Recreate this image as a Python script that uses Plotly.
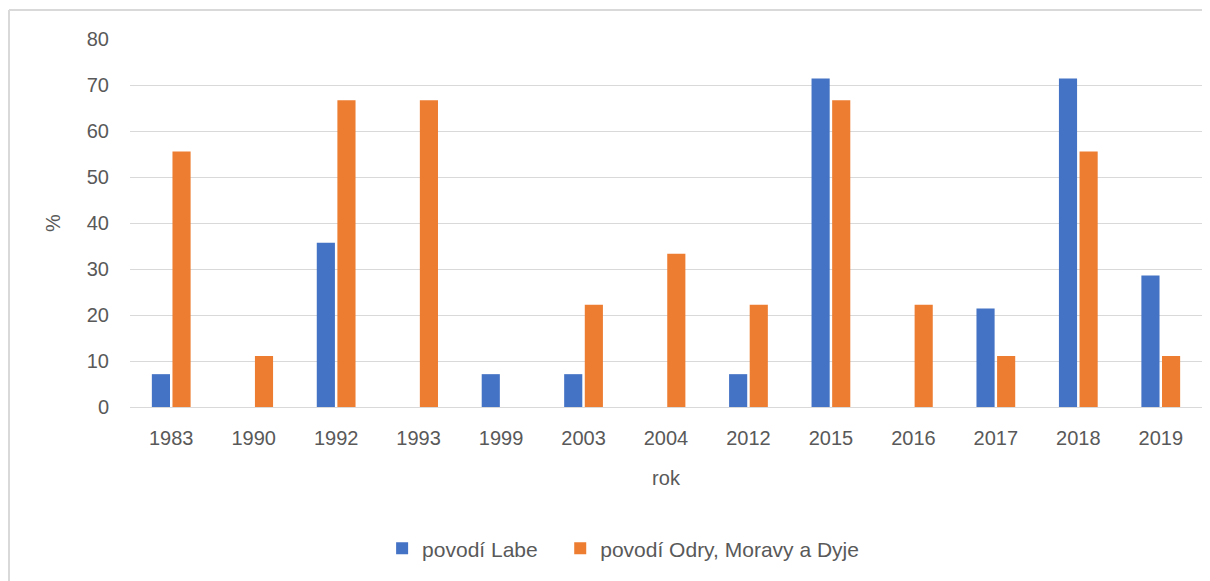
import plotly.graph_objects as go

years = ["1983", "1990", "1992", "1993", "1999", "2003", "2004",
         "2012", "2015", "2016", "2017", "2018", "2019"]
labe = [7.14, 0, 35.71, 0, 7.14, 7.14, 0, 7.14, 71.43, 0, 21.43, 71.43, 28.57]
odra = [55.56, 11.11, 66.67, 66.67, 0, 22.22, 33.33, 22.22, 66.67, 22.22, 11.11, 55.56, 11.11]
y_ticks = [0, 10, 20, 30, 40, 50, 60, 70, 80]

# page body has an 8px margin, so everything is offset by that
W, H = 1202, 573
L, R, T, B = 122, 8, 31, 174
pw, ph = W - L - R, H - T - B

txt = "#595959"
font = "Liberation Sans"

fig = go.Figure()
fig.add_trace(go.Bar(x=years, y=labe, name="povodí Labe\u00a0\u00a0\u00a0",
                     marker=dict(color="#4472C4", line=dict(width=0))))
fig.add_trace(go.Bar(x=years, y=odra, name="povodí Odry, Moravy a Dyje",
                     marker=dict(color="#ED7D31", line=dict(width=0))))

fig.update_layout(
    width=W, height=H,
    margin=dict(l=L, r=R, t=T, b=B),
    plot_bgcolor="white", paper_bgcolor="white",
    barmode="group", bargap=0.5, bargroupgap=0.12,
    font=dict(family=font, size=20, color=txt),
    legend=dict(orientation="h", x=0.46, y=-0.385, xanchor="center", yanchor="middle",
                font=dict(size=21, color=txt), traceorder="normal",
                itemsizing="constant", itemwidth=30),
    shapes=[
        dict(type="line", xref="paper", yref="paper",
             x0=(1 - L) / pw, x1=(W - L) / pw, y0=(H - 2 - B) / ph, y1=(H - 2 - B) / ph,
             line=dict(color="#d9d9d9", width=2)),
        dict(type="line", xref="paper", yref="paper",
             x0=(1 - L) / pw, x1=(1 - L) / pw, y0=(H - 2 - B) / ph, y1=-B / ph,
             line=dict(color="#d9d9d9", width=2)),
    ],
)
fig.update_xaxes(type="category", showgrid=False, showline=False, zeroline=False,
                 ticks="", ticklabelstandoff=17,
                 title=dict(text="rok", font=dict(size=20, color=txt), standoff=22))
fig.update_yaxes(range=[0, 80], tickvals=y_ticks, showgrid=True, gridcolor="#d9d9d9",
                 gridwidth=1, zeroline=True, zerolinecolor="#d9d9d9", zerolinewidth=1,
                 ticks="", ticklabelstandoff=20,
                 title=dict(text="%", font=dict(size=20, color=txt), standoff=20))

fig.write_html("out.html")
